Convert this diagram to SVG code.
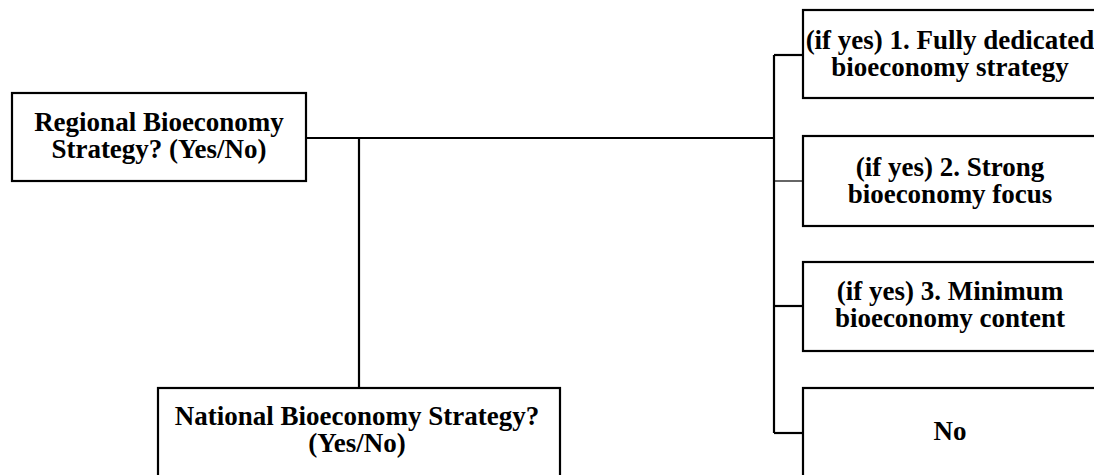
<svg xmlns="http://www.w3.org/2000/svg" width="1094" height="475" viewBox="0 0 1094 475">
<style>
.box{fill:#fff;stroke:#000;stroke-width:2.2}
.t{font-family:"Liberation Serif","Times New Roman",serif;font-weight:bold;font-size:27px;fill:#000;text-anchor:middle}
.c{fill:none;stroke:#000;stroke-width:2.2}
.thin{stroke-width:1.2}
</style>
<rect width="1094" height="475" fill="#fff"/>
<g id="connectors">
<path class="c" d="M306 138H774"/>
<path class="c" d="M359 138V388"/>
<path class="c" d="M774 55V433"/>
<path class="c" d="M774 55H803"/>
<path class="c thin" d="M774 181H803"/>
<path class="c" d="M774 306H803"/>
<path class="c" d="M774 433H803"/>
</g>
<g id="regional">
<rect class="box" x="12" y="93" width="294" height="88"/>
<text class="t" x="159" y="131">Regional Bioeconomy</text>
<text class="t" x="159" y="158">Strategy? (Yes/No)</text>
</g>
<g id="national">
<rect class="box" x="158" y="388" width="402" height="100"/>
<text class="t" x="357" y="425">National Bioeconomy Strategy?</text>
<text class="t" x="357" y="452">(Yes/No)</text>
</g>
<g id="opt1">
<rect class="box" x="803" y="10" width="300" height="88"/>
<text class="t" x="950" y="49">(if yes) 1. Fully dedicated</text>
<text class="t" x="950" y="76">bioeconomy strategy</text>
</g>
<g id="opt2">
<rect class="box" x="803" y="136" width="300" height="90"/>
<text class="t" x="950" y="176">(if yes) 2. Strong</text>
<text class="t" x="950" y="203">bioeconomy focus</text>
</g>
<g id="opt3">
<rect class="box" x="803" y="262" width="300" height="89"/>
<text class="t" x="950" y="300">(if yes) 3. Minimum</text>
<text class="t" x="950" y="327">bioeconomy content</text>
</g>
<g id="opt4">
<rect class="box" x="803" y="388" width="300" height="100"/>
<text class="t" x="950" y="440">No</text>
</g>
</svg>
